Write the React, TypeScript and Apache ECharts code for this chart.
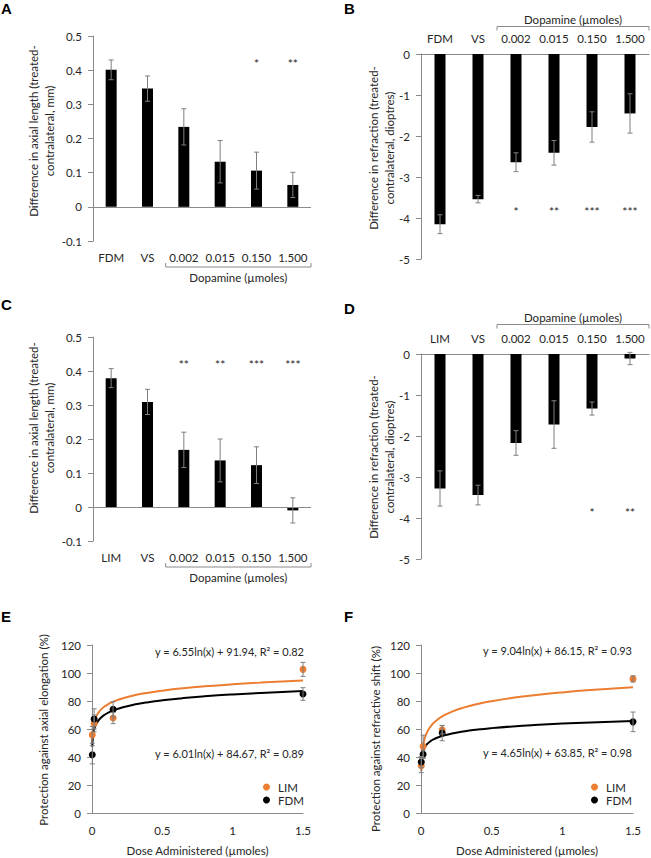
import React, { useEffect, useRef } from "react";
import * as echarts from "echarts";

// ---------- data ----------
const CATS_FDM = ["FDM", "VS", "0.002", "0.015", "0.150", "1.500"];
const CATS_LIM = ["LIM", "VS", "0.002", "0.015", "0.150", "1.500"];

const A_VALUES = [0.401, 0.346, 0.234, 0.132, 0.106, 0.064];
const A_ERR = [0.029, 0.037, 0.053, 0.062, 0.054, 0.037];
const A_STARS = ["", "", "", "", "*", "**"];

const B_VALUES = [-4.15, -3.54, -2.64, -2.41, -1.78, -1.45];
const B_ERR = [0.23, 0.09, 0.23, 0.3, 0.37, 0.48];
const B_STARS = ["", "", "*", "**", "***", "***"];

const C_VALUES = [0.379, 0.309, 0.168, 0.137, 0.123, -0.01];
const C_ERR = [0.028, 0.037, 0.052, 0.063, 0.054, 0.037];
const C_STARS = ["", "", "**", "**", "***", "***"];

const D_VALUES = [-3.28, -3.44, -2.17, -1.72, -1.33, -0.11];
const D_ERR = [0.43, 0.24, 0.3, 0.58, 0.16, 0.15];
const D_STARS = ["", "", "", "", "*", "**"];

const STAR_Y_AXIAL = 0.42;
const STAR_Y_REFR_B = -3.83;
const STAR_Y_REFR_D = -3.86;

const DOSES = [0.002, 0.015, 0.15, 1.5];
const E_LIM = [55.8, 64.0, 67.8, 102.6];
const E_LIM_ERR = [6, 6, 4, 5];
const E_FDM = [41.6, 67.2, 74.0, 85.0];
const E_FDM_ERR = [6.5, 7.2, 5.5, 4.5];
const F_LIM = [33.8, 47.6, 59.5, 95.8];
const F_LIM_ERR = [5, 8, 3, 2.2];
const F_FDM = [36.4, 41.9, 57.1, 65.1];
const F_FDM_ERR = [4, 3, 5.5, 7];

// trendline coefficients printed on the figure: y = a ln(x) + b
const E_FIT_LIM = [6.55, 91.94];
const E_FIT_FDM = [6.01, 84.67];
const F_FIT_LIM = [9.04, 86.15];
const F_FIT_FDM = [4.65, 63.85];
const FIT_X = [0.002, 0.003, 0.004, 0.006, 0.008, 0.011, 0.015, 0.02, 0.03, 0.045, 0.065, 0.09, 0.12, 0.16, 0.22, 0.3, 0.4, 0.5, 0.65, 0.8, 1.0, 1.2, 1.5];

const E_EQ = ["y = 6.55ln(x) + 91.94, R² = 0.82", "y = 6.01ln(x) + 84.67, R² = 0.89"];
const F_EQ = ["y = 9.04ln(x) + 86.15, R² = 0.93", "y = 4.65ln(x) + 63.85, R² = 0.98"];

// ---------- styles ----------
const FONT = "Lato, 'Noto Sans', sans-serif";
const TXT = "#262626";
const AXIS = "#8a8a8a";
const ERRC = "#7f7f7f";
const ORANGE = "#ED7D31";

const GRIDS = [
  { left: 93, top: 36, width: 218, height: 205 }, // A
  { left: 421, top: 54, width: 228, height: 205 }, // B
  { left: 93, top: 337, width: 218, height: 204 }, // C
  { left: 421, top: 354, width: 228, height: 205 }, // D
  { left: 92, top: 645, width: 211, height: 168 }, // E
  { left: 421, top: 645, width: 212, height: 168 }, // F
];

function errRender(params: any, api: any) {
  const x = api.value(0);
  const p1 = api.coord([x, api.value(1)]);
  const p2 = api.coord([x, api.value(2)]);
  const w = 2.5;
  const st = { stroke: ERRC, lineWidth: 1 };
  return {
    type: "group",
    children: [
      { type: "line", shape: { x1: p1[0], y1: p1[1], x2: p2[0], y2: p2[1] }, style: st },
      { type: "line", shape: { x1: p1[0] - w, y1: p1[1], x2: p1[0] + w, y2: p1[1] }, style: st },
      { type: "line", shape: { x1: p2[0] - w, y1: p2[1], x2: p2[0] + w, y2: p2[1] }, style: st },
    ],
  };
}

function starRender(stars: string[]) {
  return (params: any, api: any) => {
    const p = api.coord([api.value(0), api.value(1)]);
    return {
      type: "text",
      x: p[0],
      y: p[1],
      style: { text: stars[api.value(0)], fill: TXT, font: `12px ${FONT}`, align: "center", verticalAlign: "middle" },
    };
  };
}

function buildOption() {
  const grid: any[] = GRIDS.map((g) => ({ ...g, containLabel: false }));
  const xAxis: any[] = [];
  const yAxis: any[] = [];
  const series: any[] = [];
  const axisLabel = { color: TXT, fontSize: 11.5, fontFamily: FONT };

  const bars = [
    { cats: CATS_FDM, vals: A_VALUES, errs: A_ERR, stars: A_STARS, starY: STAR_Y_AXIAL, top: false, min: -0.1, max: 0.5, interval: 0.1 },
    { cats: CATS_FDM, vals: B_VALUES, errs: B_ERR, stars: B_STARS, starY: STAR_Y_REFR_B, top: true, min: -5, max: 0, interval: 1 },
    { cats: CATS_LIM, vals: C_VALUES, errs: C_ERR, stars: C_STARS, starY: STAR_Y_AXIAL, top: false, min: -0.1, max: 0.5, interval: 0.1 },
    { cats: CATS_LIM, vals: D_VALUES, errs: D_ERR, stars: D_STARS, starY: STAR_Y_REFR_D, top: true, min: -5, max: 0, interval: 1 },
  ];

  bars.forEach((b, i) => {
    xAxis.push({
      type: "category",
      gridIndex: i,
      data: b.cats,
      position: b.top ? "top" : "bottom",
      axisLine: { show: b.top, onZero: false, lineStyle: { color: AXIS, width: 1 } },
      axisTick: { show: false },
      axisLabel: { ...axisLabel, margin: 10, interval: 0 },
    });
    yAxis.push({
      type: "value",
      gridIndex: i,
      min: b.min,
      max: b.max,
      interval: b.interval,
      splitLine: { show: false },
      axisLine: { show: true, lineStyle: { color: AXIS, width: 1 } },
      axisTick: { show: true, length: 5, lineStyle: { color: AXIS } },
      axisLabel: { ...axisLabel, margin: 11 },
    });
    series.push({
      type: "bar",
      name: "bars" + i,
      xAxisIndex: i,
      yAxisIndex: i,
      data: b.vals,
      barWidth: 11,
      itemStyle: { color: "#000" },
      markLine: b.top
        ? undefined
        : {
            silent: true,
            symbol: "none",
            label: { show: false },
            lineStyle: { color: AXIS, type: "solid", width: 1 },
            data: [{ yAxis: 0 }],
          },
    });
    series.push({
      type: "custom",
      name: "err" + i,
      xAxisIndex: i,
      yAxisIndex: i,
      renderItem: errRender,
      data: b.vals.map((v, k) => [k, v - b.errs[k], v + b.errs[k]]),
      z: 5,
    });
    series.push({
      type: "custom",
      name: "stars" + i,
      xAxisIndex: i,
      yAxisIndex: i,
      renderItem: starRender(b.stars),
      data: b.stars.map((s, k) => [k, b.starY]).filter((d, k) => b.stars[k] !== ""),
      z: 5,
    });
  });

  const scat = [
    { lim: E_LIM, limErr: E_LIM_ERR, fdm: E_FDM, fdmErr: E_FDM_ERR, fitL: E_FIT_LIM, fitF: E_FIT_FDM },
    { lim: F_LIM, limErr: F_LIM_ERR, fdm: F_FDM, fdmErr: F_FDM_ERR, fitL: F_FIT_LIM, fitF: F_FIT_FDM },
  ];
  scat.forEach((s, j) => {
    const i = 4 + j;
    xAxis.push({
      type: "value",
      gridIndex: i,
      min: 0,
      max: 1.5,
      interval: 0.5,
      splitLine: { show: false },
      axisLine: { show: true, onZero: false, lineStyle: { color: AXIS, width: 1 } },
      axisTick: { show: false },
      axisLabel: { ...axisLabel, margin: 11 },
      name: "Dose Administered (µmoles)",
      nameLocation: "middle",
      nameGap: 31,
      nameTextStyle: { color: TXT, fontSize: 11.5, fontFamily: FONT },
    });
    yAxis.push({
      type: "value",
      gridIndex: i,
      min: 0,
      max: 120,
      interval: 20,
      splitLine: { show: false },
      axisLine: { show: true, lineStyle: { color: AXIS, width: 1 } },
      axisTick: { show: true, length: 5, lineStyle: { color: AXIS } },
      axisLabel: { ...axisLabel, margin: 11 },
    });
    const fit = (c: number[]) => FIT_X.map((x) => [x, c[0] * Math.log(x) + c[1]]);
    series.push({
      type: "line",
      name: "fitL" + j,
      xAxisIndex: i,
      yAxisIndex: i,
      data: fit(s.fitL),
      showSymbol: false,
      smooth: true,
      lineStyle: { color: ORANGE, width: 2 },
      z: 2,
    });
    series.push({
      type: "line",
      name: "fitF" + j,
      xAxisIndex: i,
      yAxisIndex: i,
      data: fit(s.fitF),
      showSymbol: false,
      smooth: true,
      lineStyle: { color: "#000", width: 2 },
      z: 2,
    });
    series.push({
      type: "scatter",
      name: "LIM",
      xAxisIndex: i,
      yAxisIndex: i,
      data: DOSES.map((d, k) => [d, s.lim[k]]),
      symbolSize: 7,
      itemStyle: { color: ORANGE, opacity: 1 },
      z: 4,
    });
    series.push({
      type: "scatter",
      name: "FDM",
      xAxisIndex: i,
      yAxisIndex: i,
      data: DOSES.map((d, k) => [d, s.fdm[k]]),
      symbolSize: 7,
      itemStyle: { color: "#000", opacity: 1 },
      z: 4,
    });
    series.push({
      type: "custom",
      name: "errL" + j,
      xAxisIndex: i,
      yAxisIndex: i,
      renderItem: errRender,
      data: DOSES.map((d, k) => [d, s.lim[k] - s.limErr[k], s.lim[k] + s.limErr[k]]),
      z: 5,
    });
    series.push({
      type: "custom",
      name: "errF" + j,
      xAxisIndex: i,
      yAxisIndex: i,
      renderItem: errRender,
      data: DOSES.map((d, k) => [d, s.fdm[k] - s.fdmErr[k], s.fdm[k] + s.fdmErr[k]]),
      z: 5,
    });
  });

  const legendBase = {
    data: ["LIM", "FDM"],
    orient: "vertical",
    icon: "circle",
    itemWidth: 7,
    itemHeight: 7,
    itemGap: 1,
    selectedMode: false,
    textStyle: { color: TXT, fontSize: 11.5, fontFamily: FONT, padding: [0, 0, 0, 3] },
  };
  const legend = [
    { ...legendBase, left: 258, top: 776 },
    { ...legendBase, left: 586, top: 776 },
  ];

  // ----- annotations -----
  const txt = (text: string, x: number, y: number, extra: any = {}) => ({
    type: "text",
    x,
    y,
    silent: true,
    style: { text, fill: TXT, font: `11.5px ${FONT}`, align: "center", verticalAlign: "middle", ...extra },
  });
  const letter = (t: string, x: number, y: number) => ({
    type: "text",
    x,
    y,
    silent: true,
    style: { text: t, fill: "#000", font: `bold 15px 'Liberation Sans', Arial, sans-serif`, align: "left", verticalAlign: "top" },
  });
  const rotTitle = (text: string, x: number, y: number) => ({
    type: "text",
    x,
    y,
    rotation: Math.PI / 2,
    silent: true,
    style: { text, fill: TXT, font: `11.5px ${FONT}`, align: "center", verticalAlign: "middle", lineHeight: 16.5 },
  });
  const bracket = (g: any, y: number, dir: number) => {
    const band = g.width / 6;
    const x1 = g.left + band * 2;
    const x2 = g.left + g.width;
    return {
      type: "polyline",
      silent: true,
      shape: { points: [[x1, y + dir * 4], [x1, y], [x2, y], [x2, y + dir * 4]] },
      style: { stroke: AXIS, lineWidth: 1, fill: null },
    };
  };
  const bracketCenter = (g: any) => g.left + (g.width / 6) * 2 + ((g.width / 6) * 4) / 2;

  const graphic: any[] = [
    letter("A", 1, 1),
    letter("B", 344, 1),
    letter("C", 1, 297),
    letter("D", 344, 301),
    letter("E", 1, 609),
    letter("F", 344, 609),
    rotTitle("Difference in axial length (treated-\ncontralateral, mm)", 41.7, 131),
    rotTitle("Difference in refraction (treated-\ncontralateral, dioptres)", 381.7, 148),
    rotTitle("Difference in axial length (treated-\ncontralateral, mm)", 41.7, 428),
    rotTitle("Difference in refraction (treated-\ncontralateral, dioptres)", 381.7, 457),
    rotTitle("Protection against axial elongation (%)", 43.3, 730),
    rotTitle("Protection against refractive shift (%)", 375, 739),
    bracket(GRIDS[0], 267, -1),
    txt("Dopamine (µmoles)", bracketCenter(GRIDS[0]), 277.5),
    bracket(GRIDS[1], 26.5, 1),
    txt("Dopamine (µmoles)", bracketCenter(GRIDS[1]), 19),
    bracket(GRIDS[2], 567, -1),
    txt("Dopamine (µmoles)", bracketCenter(GRIDS[2]), 577.5),
    bracket(GRIDS[3], 324.5, 1),
    txt("Dopamine (µmoles)", bracketCenter(GRIDS[3]), 317),
    txt(E_EQ[0], 304, 651, { align: "right", font: `11px ${FONT}` }),
    txt(E_EQ[1], 304, 753, { align: "right", font: `11px ${FONT}` }),
    txt(F_EQ[0], 632, 650, { align: "right", font: `11px ${FONT}` }),
    txt(F_EQ[1], 632, 752.5, { align: "right", font: `11px ${FONT}` }),
  ];

  return {
    animation: false,
    backgroundColor: "#fff",
    textStyle: { fontFamily: FONT },
    grid,
    xAxis,
    yAxis,
    series,
    legend,
    graphic,
  };
}

export default function App() {
  const ref = useRef<HTMLDivElement>(null);
  useEffect(() => {
    if (!ref.current) return;
    const chart = echarts.init(ref.current, undefined, { renderer: "svg" });
    chart.setOption(buildOption() as any);
    return () => chart.dispose();
  }, []);
  return (
    <div
      ref={ref}
      style={{ position: "fixed", left: 0, top: 0, width: 651, height: 858, background: "#fff" }}
    />
  );
}
